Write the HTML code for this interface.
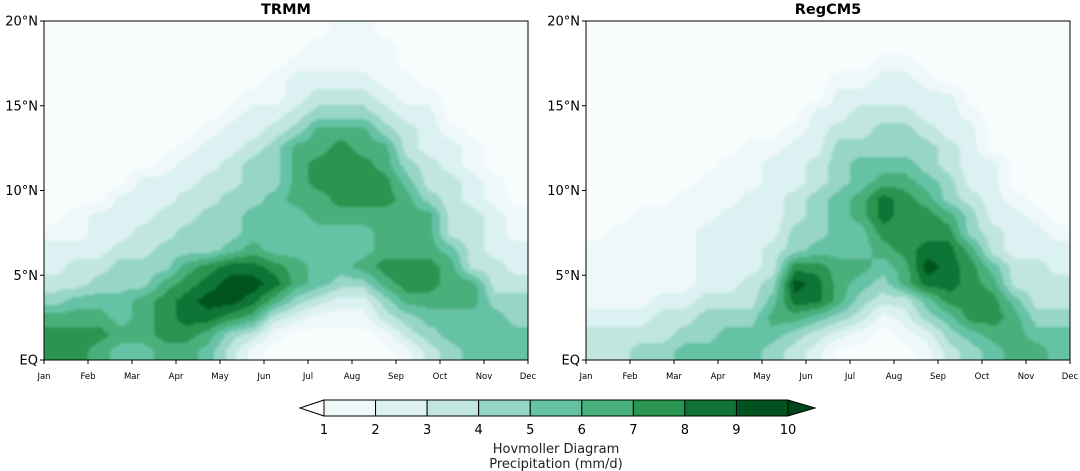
<!DOCTYPE html>
<html><head><meta charset="utf-8"><style>
html,body{margin:0;padding:0;background:#fff;}
svg{display:block;font-family:"DejaVu Sans","Liberation Sans",sans-serif;}
</style></head><body>
<svg id="chart" width="1080" height="471" viewBox="0 0 1080 471" xmlns="http://www.w3.org/2000/svg">
<defs>
<filter id="blur" filterUnits="userSpaceOnUse" x="0" y="0" width="1080" height="471"><feGaussianBlur stdDeviation="1.2"/></filter>
<clipPath id="clipL"><rect x="44" y="21" width="484" height="339"/></clipPath>
<clipPath id="clipR"><rect x="586" y="21" width="484" height="339"/></clipPath>
</defs>
<g id="layer"></g>
</svg>
<script>
// Precipitation class per half-month column (Jan..Dec), each string = latitude bands 20N (top) -> EQ (bottom); digit = floor(mm/d) class
const trmmColumns = [
"00000000000012234677",
"00000000000112335677",
"00000000000222345676",
"00000000002223445565",
"00000000022233446665",
"00000000122334467776",
"00000001223344678876",
"00000012233444789865",
"00000122334445899743",
"00001223444556898631",
"00011234445555786310",
"00122346666555664200",
"01123466776655553100",
"11123467777655542100",
"11123466777655642100",
"01112346677666764310",
"00011233456666776431",
"00001222334666776543",
"00000012233335666554",
"00000001122333366555",
"00000000011222334555",
"00000000000112234455"
];
const regcmColumns = [
"00000000000001111233",
"00000000000011111233",
"00000000000111111234",
"00000000000111112334",
"00000000001111112345",
"00000000011122223445",
"00000000111222223455",
"00000001112222233455",
"00000001222223345654",
"00000012223344798643",
"00000222334445788532",
"00012234445555666420",
"00012334556655654310",
"00122344568876543100",
"00122344567777663210",
"00012234456778985421",
"00002223344678887543",
"00000122223446777754",
"00000000222233567765",
"00000000001222335666",
"00000000000122333456",
"00000000000012233455"
];
const monthLabels = ["Jan","Feb","Mar","Apr","May","Jun","Jul","Aug","Sep","Oct","Nov","Dec"];
const latTicks = [0,5,10,15,20];
const latLabels = ["EQ","5°N","10°N","15°N","20°N"];
const cbarTicks = [1,2,3,4,5,6,7,8,9,10];
const palette = ["#f7fcfd","#eef8f9","#dbf1f2","#c0e6de","#97d6c6","#66c2a4","#48b07b","#2a9551","#0f7535","#00531f","#00441b"];

const NS="http://www.w3.org/2000/svg";
const svg=document.getElementById('layer');
function mk(tag,attrs,parent){const e=document.createElementNS(NS,tag);for(const k in attrs)e.setAttribute(k,attrs[k]);(parent||svg).appendChild(e);return e;}

const plotTop=21, plotBot=360, plotW=484;
function yScale(lat){return plotBot-(lat/20)*(plotBot-plotTop);}
function sample(cols,fc,fr){
  const nC=cols.length,nR=cols[0].length;
  fc=Math.max(0,Math.min(nC-1,fc)); fr=Math.max(0,Math.min(nR-1,fr));
  const c0=Math.floor(fc),r0=Math.floor(fr),c1=Math.min(nC-1,c0+1),r1=Math.min(nR-1,r0+1);
  const tx=fc-c0,ty=fr-r0;
  const v=(c,r)=>+cols[c][r]+0.5;
  return (v(c0,r0)*(1-tx)+v(c1,r0)*tx)*(1-ty)+(v(c0,r1)*(1-tx)+v(c1,r1)*tx)*ty;
}
function panel(x0,cols,title,clip,name){
  const g=mk('g',{});
  
  
  const field=mk('g',{'clip-path':'url(#'+clip+')'},g);
  
  
  const inner=mk('g',{filter:'url(#blur)'},field);
  const nC=cols.length, nR=cols[0].length, cw=plotW/nC, rh=(plotBot-plotTop)/nR;
  const step=2;
  for(let y=plotTop-4;y<plotBot+4;y+=step){
    const fr=(y+step/2-plotTop)/rh-0.5;
    let runStart=x0-4, runCls=-1;
    for(let x=x0-4;x<=x0+plotW+4;x+=step){
      let cls=-2;
      if(x<x0+plotW+4){
        const fc=(x+step/2-x0)/cw-0.5;
        cls=Math.max(0,Math.min(9,Math.floor(sample(cols,fc,fr))));
      }
      if(cls!==runCls){
        if(runCls>=0){
          const rr=mk('rect',{x:runStart,y:y,width:x-runStart+0.5,height:step+0.5,fill:palette[runCls]},inner);
          
          
        }
        runStart=x; runCls=cls;
      }
    }
  }
  const frame=mk('rect',{x:x0,y:plotTop,width:plotW,height:plotBot-plotTop,fill:'none',stroke:'#000','stroke-width':1},g);
  
  
  latTicks.forEach((lt,i)=>{
    const y=yScale(lt);
    mk('line',{x1:x0-4,x2:x0,y1:y,y2:y,stroke:'#000'},g);
    const t=mk('text',{x:x0-6,y:y+4.5,'text-anchor':'end','font-size':13,fill:'#000'},g);
    t.textContent=latLabels[i];
    
    
  });
  monthLabels.forEach((m,i)=>{
    const x=x0+i*plotW/11;
    mk('line',{x1:x,x2:x,y1:plotBot,y2:plotBot+4,stroke:'#000'},g);
    const t=mk('text',{x:x,y:379,'text-anchor':'middle','font-size':8.5,fill:'#000'},g);
    t.textContent=m;
    
    
  });
  const tt=mk('text',{x:x0+plotW/2,y:14,'text-anchor':'middle','font-size':14.5,'font-weight':'bold',fill:'#000'},g);
  tt.textContent=title;
  
  
}
panel(44,trmmColumns,'TRMM','clipL','trmm');
panel(586,regcmColumns,'RegCM5','clipR','regcm5');

// colorbar
const cb=mk('g',{});


const cbL=324, cbR=788, cbT=400, cbB=416;
function cbX(v){return cbL+(v-1)/9*(cbR-cbL);}
const lt=mk('polygon',{points:`300,${(cbT+cbB)/2} ${cbL},${cbT} ${cbL},${cbB}`,fill:'#ffffff',stroke:'#000','stroke-width':1},cb);


for(let i=0;i<cbarTicks.length-1;i++){
  const seg=mk('rect',{x:cbX(cbarTicks[i]),y:cbT,width:cbX(cbarTicks[i+1])-cbX(cbarTicks[i]),height:cbB-cbT,fill:palette[i+1],stroke:'#000','stroke-width':1},cb);
  
  
}
const rt=mk('polygon',{points:`815,${(cbT+cbB)/2} ${cbR},${cbT} ${cbR},${cbB}`,fill:palette[10],stroke:'#000','stroke-width':1},cb);


cbarTicks.forEach(v=>{
  const t=mk('text',{x:cbX(v),y:434,'text-anchor':'middle','font-size':13,fill:'#000'},cb);
  t.textContent=String(v);
  
  
});
const l1=mk('text',{x:556,y:453,'text-anchor':'middle','font-size':13,fill:'#222'},cb);
l1.textContent='Hovmoller Diagram';


const l2=mk('text',{x:556,y:468,'text-anchor':'middle','font-size':13,fill:'#222'},cb);
l2.textContent='Precipitation (mm/d)';


</script>
</body></html>
